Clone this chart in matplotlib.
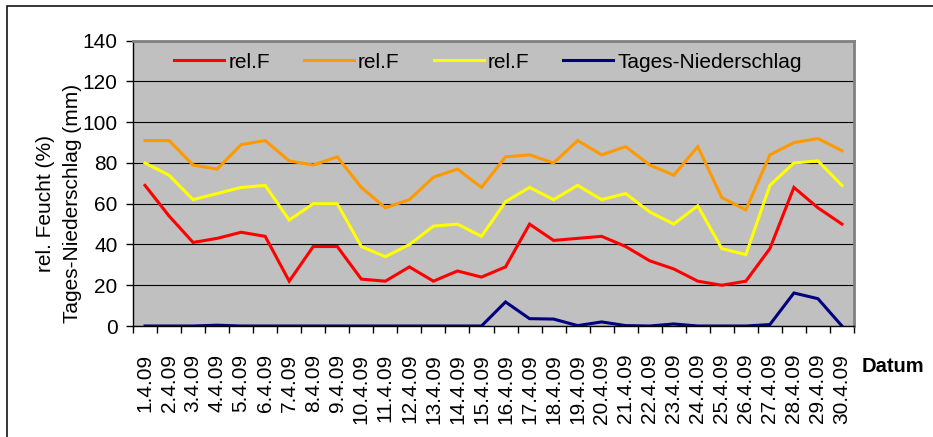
import matplotlib
matplotlib.use("Agg")
import matplotlib.pyplot as plt
from matplotlib.patches import Rectangle
from matplotlib.ticker import FixedLocator

plt.rcParams['font.family'] = ['Liberation Sans', 'DejaVu Sans']

dates = [f"{d}.4.09" for d in range(1, 31)]
relf_red = [69, 54, 41, 43, 46, 44, 22, 39, 39, 23, 22, 29, 22, 27, 24,
            29, 50, 42, 43, 44, 39, 32, 28, 22, 20, 22, 38, 68, 58, 50]
relf_orange = [91, 91, 79, 77, 89, 91, 81, 79, 83, 68, 58, 62, 73, 77, 68,
               83, 84, 80, 91, 84, 88, 79, 74, 88, 63, 57, 84, 90, 92, 86]
relf_yellow = [80, 74, 62, 65, 68, 69, 52, 60, 60, 39, 34, 40, 49, 50, 44,
               61, 68, 62, 69, 62, 65, 56, 50, 59, 38, 35, 69, 80, 81, 69]
niederschlag = [0, 0, 0, 0.4, 0, 0, 0, 0, 0, 0, 0, 0, 0, 0, 0,
                11.8, 3.6, 3.4, 0.2, 2.0, 0.2, 0, 1.0, 0, 0, 0, 0.7, 16.2, 13.4, 0]
legend_labels = ["rel.F", "rel.F", "rel.F", "Tages-Niederschlag"]
series_colors = ["#FF0000", "#FF9900", "#FFFF00", "#000080"]

FS = 15
W, H = 933, 437
fig = plt.figure(figsize=(W / 100, H / 100), dpi=100)
ax = fig.add_axes([133 / W, 1 - 326 / H, (854 - 133) / W, (326 - 40.7) / H])
ax.set_facecolor("#C0C0C0")

x = list(range(1, 31))
for vals, c, lab in zip([relf_red, relf_orange, relf_yellow, niederschlag],
                        series_colors, legend_labels):
    ax.plot(x, vals, color=c, lw=2.2, label=lab, solid_joinstyle='miter', zorder=3)

ax.set_xlim(0.5, 30.5)
ax.set_ylim(0, 140)
ax.set_yticks(range(0, 141, 20))
ax.yaxis.grid(True, color="black", lw=0.8, zorder=1)
ax.set_axisbelow(True)

ax.set_xticks(x)
ax.set_xticklabels(dates, rotation=90, fontsize=FS)
ax.xaxis.set_minor_locator(FixedLocator([i + 0.5 for i in range(0, 31)]))
ax.tick_params(axis='x', which='major', length=0, pad=20)
ax.tick_params(axis='x', which='minor', length=5, width=1, color='black')
ax.tick_params(axis='y', length=5, width=1, pad=6, labelsize=FS)

for s in ['top', 'right']:
    ax.spines[s].set_color('#808080')
    ax.spines[s].set_linewidth(2)
for s in ['left', 'bottom']:
    ax.spines[s].set_color('black')
    ax.spines[s].set_linewidth(1)

leg = ax.legend(loc='center left', bbox_to_anchor=(0.057, 0.925), ncol=4, frameon=False,
                fontsize=FS, handlelength=2.4, handletextpad=0.2, columnspacing=1.63,
                borderpad=0, borderaxespad=0)

fig.text(45.5 / W, 1 - 203 / H, "rel. Feucht (%)", rotation=90, fontsize=FS,
         ha='center', va='center')
fig.text(72 / W, 1 - 203 / H, "Tages-Niederschlag (mm)", rotation=90, fontsize=FS,
         ha='center', va='center')
fig.text(862 / W, 1 - 367 / H, "Datum", fontsize=14.5, fontweight='bold',
         ha='left', va='center')

fig.patches.append(Rectangle((7 / W, -0.05), 1.1, 1 - 5.5 / H + 0.05,
                             transform=fig.transFigure, fill=False,
                             edgecolor='black', lw=1.1))

fig.savefig("out.png", dpi=100)
